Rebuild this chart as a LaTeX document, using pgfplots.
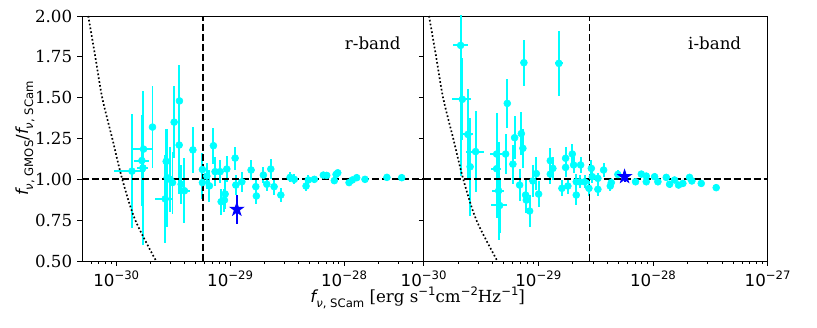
\documentclass[border=0pt]{standalone}
\usepackage{fontspec}
\setmainfont{DejaVu Serif}
\newfontfamily\djs{DejaVu Sans}
\usepackage{xcolor}
\definecolor{cy}{RGB}{0,255,255}
\definecolor{bl}{RGB}{0,0,255}
\usepackage{pgfplots}
\usepackage{pgfplotstable}
\pgfplotsset{compat=1.18}
\usetikzlibrary{calc}

% filled five-pointed star (matplotlib '*')
\pgfdeclareplotmark{fstar}{%
  \pgfpathmoveto{\pgfpointpolar{90}{\pgfplotmarksize}}%
  \pgfpathlineto{\pgfpointpolar{126}{0.382\pgfplotmarksize}}%
  \pgfpathlineto{\pgfpointpolar{162}{\pgfplotmarksize}}%
  \pgfpathlineto{\pgfpointpolar{198}{0.382\pgfplotmarksize}}%
  \pgfpathlineto{\pgfpointpolar{234}{\pgfplotmarksize}}%
  \pgfpathlineto{\pgfpointpolar{270}{0.382\pgfplotmarksize}}%
  \pgfpathlineto{\pgfpointpolar{306}{\pgfplotmarksize}}%
  \pgfpathlineto{\pgfpointpolar{342}{0.382\pgfplotmarksize}}%
  \pgfpathlineto{\pgfpointpolar{18}{\pgfplotmarksize}}%
  \pgfpathlineto{\pgfpointpolar{54}{0.382\pgfplotmarksize}}%
  \pgfpathclose
  \pgfusepathqfill
}

\newcommand{\sps}[1]{\raisebox{0.45em}{\djs\fontsize{8.4}{9}\selectfont #1}}
\newcommand{\sbs}[1]{\raisebox{-0.3em}{\fontsize{8.4}{9}\selectfont #1}}
\newcommand{\fnu}[1]{{\djs\itshape f}\sbs{\djs{\itshape ν}, #1}}
\newcommand{\xtl}[1]{{\djs 10\sps{−#1}}}

\begin{document}

% r-band: flux (erg/s/cm2/Hz), ratio, relative x error, y error
\pgfplotstableread{
x y ex ey
1.374e-30 1.05 0.30 0.35
1.736e-30 1.185 0.22 0.20
1.680e-30 1.115 0.15 0.28
1.714e-30 1.07 0.12 0.47
2.081e-30 1.32 0.05 0.25
3.226e-30 1.35 0 0.22
3.590e-30 1.48 0 0.22
3.570e-30 1.21 0 0.30
4.710e-30 1.18 0 0.14
2.745e-30 1.11 0 0.20
2.800e-30 1.01 0 0.30
2.977e-30 1.00 0 0.20
3.118e-30 0.98 0 0.19
3.716e-30 0.97 0 0.12
3.972e-30 0.93 0.12 0.20
2.690e-30 0.88 0.18 0.27
5.71e-30 1.06 0 0.10
5.71e-30 0.98 0 0.10
6.247e-30 1.02 0 0.08
6.58e-30 0.96 0 0.10
7.136e-30 1.206 0 0.11
7.38e-30 1.047 0 0.09
8.17e-30 1.047 0 0.07
8.34e-30 0.863 0 0.08
9.04e-30 0.91 0 0.09
8.91e-30 0.873 0 0.07
9.35e-30 1.063 0 0.08
1.106e-29 1.13 0 0.07
1.122e-29 0.965 0 0.06
1.267e-29 0.985 0 0.06
1.528e-29 1.057 0 0.06
1.68e-29 0.955 0 0.05
1.70e-29 0.898 0 0.05
1.959e-29 1.026 0 0.05
2.099e-29 0.97 0 0.04
2.275e-29 1.063 0 0.06
2.432e-29 0.955 0 0.05
2.786e-29 0.904 0 0.04
3.36e-29 1.012 0 0.03
3.66e-29 1.0 0 0.03
4.64e-29 0.959 0 0.03
4.86e-29 0.996 0 0.03
5.49e-29 1.0 0 0.02
6.58e-29 1.026 0 0.02
7.05e-29 1.024 0 0.02
8.22e-29 0.992 0 0.02
8.51e-29 1.03 0 0.02
8.81e-29 1.04 0 0.02
1.107e-28 0.98 0 0.02
1.183e-28 0.996 0 0.02
1.292e-28 1.01 0 0.02
1.528e-28 1.0 0 0.02
2.38e-28 1.012 0 0.02
3.21e-28 1.01 0 0.02
}\rdata

% i-band
\pgfplotstableread{
x y ex ey
2.102e-30 1.82 0.15 0.80
2.175e-30 1.49 0.19 0.25
2.430e-30 1.275 0.12 0.28
5.366e-30 1.465 0 0.15
7.49e-30 1.714 0 0.14
1.512e-29 1.71 0.08 0.20
6.215e-30 1.255 0 0.13
7.11e-30 1.28 0 0.13
7.34e-30 1.19 0 0.12
2.84e-30 1.17 0.18 0.25
2.544e-30 1.077 0 0.30
4.33e-30 1.155 0.12 0.25
4.33e-30 1.065 0.10 0.30
4.51e-30 0.93 0.12 0.30
4.60e-30 0.84 0.16 0.17
5.19e-30 1.155 0 0.12
6.005e-30 1.093 0 0.12
6.87e-30 0.965 0 0.10
7.75e-30 0.904 0 0.10
7.86e-30 0.873 0 0.08
8.40e-30 0.806 0 0.10
8.97e-30 0.99 0 0.10
9.61e-30 1.035 0 0.10
1.006e-29 0.91 0 0.08
1.272e-29 1.114 0 0.08
1.34e-29 1.067 0 0.07
1.272e-29 1.032 0 0.06
1.606e-29 0.945 0 0.05
1.73e-29 1.129 0 0.07
1.73e-29 1.073 0 0.06
1.81e-29 0.959 0 0.05
1.979e-29 1.155 0 0.06
2.032e-29 1.088 0 0.05
2.143e-29 0.904 0 0.06
2.143e-29 0.985 0 0.05
2.338e-29 1.088 0 0.05
2.29e-29 0.985 0 0.04
2.534e-29 0.985 0 0.04
2.763e-29 0.945 0 0.05
2.90e-29 1.067 0 0.05
2.958e-29 1.016 0 0.04
3.308e-29 1.006 0 0.03
3.308e-29 0.939 0 0.04
3.71e-29 1.057 0 0.04
4.243e-29 0.959 0 0.03
4.33e-29 0.98 0 0.03
4.94e-29 1.03 0 0.03
7.05e-29 0.985 0 0.02
7.91e-29 1.032 0 0.02
8.74e-29 1.02 0 0.02
8.74e-29 0.985 0 0.02
1.033e-28 1.016 0 0.02
1.104e-28 0.985 0 0.02
1.306e-28 1.012 0 0.02
1.396e-28 0.97 0 0.02
1.542e-28 0.996 0 0.02
1.671e-28 0.965 0 0.02
1.823e-28 0.975 0 0.02
2.084e-28 1.012 0 0.02
2.183e-28 0.99 0 0.02
2.636e-28 0.975 0 0.02
3.56e-28 0.949 0 0.02
}\idata

\begin{tikzpicture}
\begin{semilogxaxis}[name=L, scale only axis, width=246pt, height=176.4pt,
  xmin=5e-31, xmax=5e-28, ymin=0.5, ymax=2,
  ytick={0.5,0.75,1,1.25,1.5,1.75,2},
  yticklabels={0.50,0.75,1.00,1.25,1.50,1.75,2.00},
  xtick={1e-30,1e-29,1e-28},
  xticklabels={\xtl{30},\xtl{29},\xtl{28}},
  minor xtick={6e-31,7e-31,8e-31,9e-31,2e-30,3e-30,4e-30,5e-30,6e-30,7e-30,8e-30,9e-30,2e-29,3e-29,4e-29,5e-29,6e-29,7e-29,8e-29,9e-29,2e-28,3e-28,4e-28},
  tick align=outside, xtick pos=left, ytick pos=left,
  major tick length=3.5pt, minor tick length=2pt,
  every tick/.style={black, line width=0.6pt},
  axis line style={line width=0.6pt},
  ticklabel style={font=\fontsize{12}{14}\selectfont},
]
\addplot[only marks, mark=*, mark size=2.5pt, color=cy,
  error bars/.cd, x dir=both, x explicit relative, y dir=both, y explicit,
  error mark=none, error bar style={line width=1.4pt, cy}]
  table[x=x, y=y, x error=ex, y error=ey] {\rdata};
\addplot[only marks, mark=fstar, mark size=6pt, color=bl,
  error bars/.cd, y dir=both, y explicit,
  error mark=none, error bar style={line width=1.4pt, bl}]
  coordinates {(1.145e-29,0.816) +- (0,0.087)};
\addplot[black, line width=1.2pt, dash pattern=on 1.2pt off 1.6pt, smooth]
  coordinates {(5.68e-31,2.0) (6.55e-31,1.75) (7.53e-31,1.5) (9.23e-31,1.25) (1.13e-30,1.0) (1.47e-30,0.75) (2.24e-30,0.5)};
\addplot[black, line width=1.3pt, dash pattern=on 5pt off 2.2pt] coordinates {(5e-31,1) (5e-28,1)};
\addplot[black, line width=1.3pt, dash pattern=on 5pt off 2.2pt] coordinates {(5.75e-30,0.5) (5.75e-30,2)};
\node[font=\fontsize{12}{14}\selectfont] at (rel axis cs:0.851,0.89) {r-band};
\end{semilogxaxis}

\begin{semilogxaxis}[name=R, scale only axis, width=247.7pt, height=176.4pt,
  at={(L.south east)}, anchor=south west,
  xmin=1e-30, xmax=1e-27, ymin=0.5, ymax=2,
  ytick={0.5,0.75,1,1.25,1.5,1.75,2},
  yticklabels={},
  xtick={1e-30,1e-29,1e-28,1e-27},
  xticklabels={\xtl{30},\xtl{29},\xtl{28},\xtl{27}},
  minor xtick={2e-30,3e-30,4e-30,5e-30,6e-30,7e-30,8e-30,9e-30,2e-29,3e-29,4e-29,5e-29,6e-29,7e-29,8e-29,9e-29,2e-28,3e-28,4e-28,5e-28,6e-28,7e-28,8e-28,9e-28},
  tick align=outside, xtick pos=left, ytick pos=left,
  major tick length=3.5pt, minor tick length=2pt,
  every tick/.style={black, line width=0.6pt},
  axis line style={line width=0.6pt},
  ticklabel style={font=\fontsize{12}{14}\selectfont},
]
\addplot[only marks, mark=*, mark size=2.5pt, color=cy,
  error bars/.cd, x dir=both, x explicit relative, y dir=both, y explicit,
  error mark=none, error bar style={line width=1.4pt, cy}]
  table[x=x, y=y, x error=ex, y error=ey] {\idata};
\addplot[only marks, mark=fstar, mark size=6pt, color=bl,
  error bars/.cd, y dir=both, y explicit,
  error mark=none, error bar style={line width=1.4pt, bl}]
  coordinates {(5.655e-29,1.016) +- (0,0.03)};
\addplot[black, line width=1.2pt, dash pattern=on 1.2pt off 1.6pt, smooth]
  coordinates {(1.115e-30,2.0) (1.286e-30,1.75) (1.478e-30,1.5) (1.812e-30,1.25) (2.218e-30,1.0) (2.886e-30,0.75) (4.397e-30,0.5)};
\addplot[black, line width=1.3pt, dash pattern=on 5pt off 2.2pt] coordinates {(1e-30,1) (1e-27,1)};
\addplot[black, line width=1.3pt, dash pattern=on 5pt off 2.2pt] coordinates {(2.8e-29,0.5) (2.8e-29,2)};
\node[font=\fontsize{12}{14}\selectfont] at (rel axis cs:0.846,0.89) {i-band};
\end{semilogxaxis}

\node[rotate=90, font=\fontsize{12}{14}\selectfont] at ($(L.west)+(-41pt,0)$) {\fnu{GMOS}{\djs /}\fnu{SCam}};
\node[font=\fontsize{12}{14}\selectfont] at ($(L.south east)+(-4.3pt,-26.6pt)$) {\fnu{SCam} [erg s\sps{−1}cm\sps{−2}Hz\sps{−1}]};

\pgfresetboundingbox
\path[use as bounding box] ($(L.south west)+(-59.04pt,-47.52pt)$) rectangle ++(588.24pt,235.44pt);
\end{tikzpicture}
\end{document}
